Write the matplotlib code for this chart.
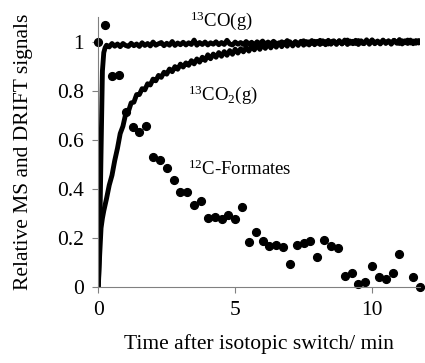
import numpy as np
import matplotlib
matplotlib.use("Agg")
import matplotlib.pyplot as plt

plt.rcParams['font.family'] = ['Liberation Serif', 'DejaVu Serif']
plt.rcParams['mathtext.fontset'] = 'custom'
plt.rcParams['mathtext.rm'] = 'Liberation Serif'
plt.rcParams['mathtext.it'] = 'Liberation Serif:italic'

# ---- data ----
# 12C-Formates (DRIFT), sampled every 0.25 min
form_time = [0.0, 0.25, 0.5, 0.75, 1.0, 1.25, 1.5, 1.75, 2.0, 2.25, 2.5, 2.75,
             3.0, 3.25, 3.5, 3.75, 4.0, 4.25, 4.5, 4.75, 5.0, 5.25, 5.5, 5.75,
             6.0, 6.25, 6.5, 6.75, 7.0, 7.25, 7.5, 7.75, 8.0, 8.25, 8.5, 8.75,
             9.0, 9.25, 9.5, 9.75, 10.0, 10.25, 10.5, 10.75, 11.0, 11.5, 11.75]
form_vals = [1.0, 1.067, 0.861, 0.865, 0.711, 0.652, 0.630, 0.657, 0.529, 0.518,
             0.484, 0.437, 0.385, 0.386, 0.335, 0.351, 0.283, 0.287, 0.278, 0.294,
             0.278, 0.325, 0.185, 0.226, 0.189, 0.167, 0.171, 0.162, 0.094, 0.171,
             0.181, 0.189, 0.124, 0.192, 0.167, 0.158, 0.045, 0.058, 0.012, 0.019,
             0.086, 0.040, 0.031, 0.058, 0.135, 0.040, 0.001]

# MS signals: initial rise, then regular 0.1-min sampling grid
rise_time = [0.0, 0.05, 0.1, 0.15, 0.2, 0.25]
co_rise = [0.0, 0.2, 0.55, 0.88, 0.955, 0.975]
co2_rise = [0.0, 0.13, 0.24, 0.28, 0.31, 0.335]
grid_time = np.round(np.arange(0.3, 11.85, 0.1), 2)

co_vals = [0.985, 0.978, 0.992, 0.981, 0.99, 0.979, 0.992, 0.984, 0.98,
           0.993, 0.983, 0.99, 0.98, 0.995, 0.984, 0.992, 0.982, 0.998, 0.985,
           0.991, 0.996, 0.983, 0.993, 0.985, 1.0, 0.984, 0.994, 0.987, 0.997,
           0.986, 0.995, 0.988, 1.006, 0.985, 0.996, 0.988, 0.998, 0.986, 0.995,
           0.989, 0.999, 0.987, 0.996, 0.988, 1.005, 0.99, 0.986, 0.998, 0.989,
           0.996, 0.988, 1.0, 0.99, 0.997, 0.987, 0.999, 0.991, 1.002, 0.989,
           0.998, 0.99, 1.001, 0.992, 0.988, 0.999, 0.991, 1.004, 0.993, 0.989,
           1.0, 0.991, 0.998, 1.003, 0.99, 0.999, 0.992, 1.001, 0.993, 1.005,
           0.992, 1.0, 0.99, 0.999, 1.003, 0.993, 1.001, 0.991, 1.0, 1.006,
           0.993, 1.001, 0.992, 1.004, 0.995, 0.991, 1.002, 0.994, 1.007, 0.993,
           1.001, 0.992, 1.004, 0.995, 1.002, 0.993, 1.005, 0.996, 0.992, 1.003,
           0.995, 1.006, 0.994, 1.002, 0.993, 1.004, 0.996]

co2_vals = [0.36, 0.415, 0.455, 0.515, 0.565, 0.625, 0.655, 0.705, 0.715, 0.75,
            0.753, 0.784, 0.784, 0.808, 0.803, 0.828, 0.823, 0.847, 0.84, 0.862,
            0.854, 0.875, 0.867, 0.888, 0.877, 0.898, 0.887, 0.908, 0.896, 0.913,
            0.903, 0.922, 0.909, 0.929, 0.916, 0.936, 0.923, 0.946, 0.93, 0.949,
            0.936, 0.955, 0.94, 0.959, 0.944, 0.963, 0.948, 0.969, 0.953, 0.971,
            0.958, 0.977, 0.961, 0.98, 0.966, 0.986, 0.968, 0.988, 0.972, 0.99,
            0.974, 0.992, 0.977, 0.995, 0.979, 0.996, 0.981, 0.999, 0.982, 0.998,
            0.984, 1.001, 0.985, 1.0, 0.986, 1.004, 0.987, 1.001, 0.988, 1.003,
            0.987, 1.005, 0.989, 1.001, 0.988, 1.004, 0.99, 1.006, 0.988, 1.002,
            0.991, 1.005, 0.988, 1.003, 0.992, 1.007, 0.989, 1.004, 0.991, 1.002,
            0.99, 1.006, 0.992, 1.003, 0.989, 1.005, 0.993, 1.008, 0.99, 1.003,
            0.992, 1.006, 0.991, 1.004, 0.994, 1.005]

co_time = list(rise_time) + list(grid_time)
co_all = co_rise + co_vals
co2_all = co2_rise + co2_vals

x_ticks = [0, 5, 10]
y_ticks = [0, 0.2, 0.4, 0.6, 0.8, 1]
y_ticklabels = ['0', '0.2', '0.4', '0.6', '0.8', '1']

# ---- figure ----
fig = plt.figure(figsize=(4.25, 3.63), dpi=100)
ax = fig.add_axes([0.2313, 0.2094, 0.7569, 0.7438])

ax.plot(co_time, co_all, color='black', lw=3.5, solid_joinstyle='round')
ax.plot(co_time, co2_all, color='black', lw=3.5, solid_joinstyle='round')
ax.plot(form_time, form_vals, 'o', color='black', ms=5.6, clip_on=False)

ax.set_xlim(0, 11.75)
ax.set_ylim(0, 1.1)
ax.set_xticks(x_ticks)
ax.set_yticks(y_ticks)
ax.set_yticklabels(y_ticklabels)

for s in ['top', 'right']:
    ax.spines[s].set_visible(False)
for s in ['left', 'bottom']:
    ax.spines[s].set_color('#808080')
    ax.spines[s].set_linewidth(0.8)
ax.tick_params(axis='both', direction='out', length=4.3, width=0.8,
               color='#808080', labelsize=15.5, pad=6)

ax.set_xlabel('Time after isotopic switch/ min', fontsize=15.5, labelpad=10)
ax.set_ylabel('Relative MS and DRIFT signals', fontsize=15.5, labelpad=17)

ax.text(3.35, 1.085, r'$\mathregular{^{13}}$CO(g)', fontsize=13.5, va='center')
ax.text(3.27, 0.785, r'$\mathregular{^{13}CO_2}$(g)', fontsize=13.5, va='center')
ax.text(3.27, 0.478, r'$\mathregular{^{12}}$C-Formates', fontsize=13.5, va='center')

fig.savefig('out.png', dpi=100)
